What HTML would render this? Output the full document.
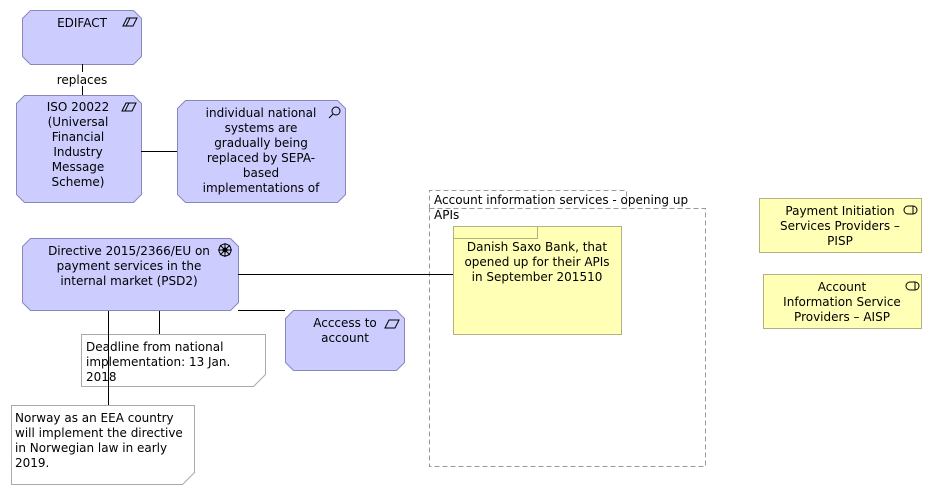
<!DOCTYPE html>
<html><head><meta charset="utf-8"><style>
html,body{margin:0;padding:0;background:#fff;width:932px;height:495px;overflow:hidden}
svg text{font-family:"DejaVu Sans","Liberation Sans",sans-serif;font-size:12px;fill:#000}
</style></head><body>
<svg width="932" height="495" viewBox="0 0 932 495" xmlns="http://www.w3.org/2000/svg">
<g fill="#ccccff" stroke="#8888bb">
<polygon points="30.5,10.5 133.5,10.5 141.5,18.5 141.5,56.5 133.5,64.5 30.5,64.5 22.5,56.5 22.5,18.5"/>
<polygon points="24.5,95.5 133.5,95.5 141.5,103.5 141.5,194.5 133.5,202.5 24.5,202.5 16.5,194.5 16.5,103.5"/>
<polygon points="185.5,100.5 337.5,100.5 345.5,108.5 345.5,194.5 337.5,202.5 185.5,202.5 177.5,194.5 177.5,108.5"/>
<polygon points="30.5,238.5 230.5,238.5 238.5,246.5 238.5,302.5 230.5,310.5 30.5,310.5 22.5,302.5 22.5,246.5"/>
<polygon points="293.5,310.5 396.5,310.5 404.5,318.5 404.5,362.5 396.5,370.5 293.5,370.5 285.5,362.5 285.5,318.5"/>
</g>
<g fill="#fff" stroke="#aaa">
<polygon points="81.5,334.5 265.5,334.5 265.5,374.5 253.5,386.5 81.5,386.5"/>
<polygon points="11.5,405.5 194.5,405.5 194.5,472.5 182.5,484.5 11.5,484.5"/>
</g>
<g fill="none" stroke="#999" stroke-dasharray="5,3">
<polyline points="429.5,208.5 429.5,190.5 626.5,190.5 626.5,208.5"/>
<rect x="429.5" y="208.5" width="276" height="258"/>
</g>
<g fill="#ffffb5" stroke="#b0b080">
<rect x="453.5" y="226.5" width="168" height="108"/>
<rect x="453.5" y="226.5" width="84" height="12"/>
<rect x="759.5" y="198.5" width="162" height="54"/>
<rect x="763.5" y="274.5" width="158" height="54"/>
</g>
<g stroke="#000" stroke-width="1">
<line x1="82.5" y1="64" x2="82.5" y2="72"/>
<line x1="82.5" y1="86" x2="82.5" y2="95"/>
<line x1="141" y1="151.5" x2="177" y2="151.5"/>
<line x1="238" y1="274.5" x2="453" y2="274.5"/>
<line x1="238" y1="310.5" x2="285" y2="310.5"/>
<line x1="159.5" y1="311" x2="159.5" y2="334"/>
<line x1="108.5" y1="311" x2="108.5" y2="405"/>
</g>
<g fill="none" stroke="#000" stroke-width="1">
<polygon points="123,26 127,18 137,18 133,26"/><line x1="126" y1="26" x2="130" y2="18"/>
<polygon points="122,111 126,103 136,103 132,111"/><line x1="125" y1="111" x2="129" y2="103"/>
<circle cx="336" cy="111" r="4"/><line x1="333" y1="114" x2="329" y2="118"/>
<circle cx="225" cy="250" r="6"/><circle cx="225" cy="250" r="2" fill="#000"/>
<line x1="218" y1="250" x2="232" y2="250"/><line x1="225" y1="243" x2="225" y2="257"/>
<line x1="220" y1="245" x2="230" y2="255"/><line x1="230" y1="245" x2="220" y2="255"/>
<polygon points="385,328 389,320 399,320 395,328"/>
<rect x="904" y="206" width="13" height="8" rx="4"/><line x1="913" y1="206" x2="913" y2="214"/>
<rect x="906" y="282" width="13" height="8" rx="4"/><line x1="915" y1="282" x2="915" y2="290"/>
</g>
<g text-anchor="middle">
<text x="82" y="27">EDIFACT</text>
<text x="82" y="84">replaces</text>
<text x="78" y="111">ISO 20022</text><text x="78" y="126">(Universal</text><text x="78" y="141">Financial</text><text x="78" y="156">Industry</text><text x="78" y="171">Message</text><text x="78" y="186">Scheme)</text>
<text x="261" y="117">individual national</text><text x="261" y="132">systems are</text><text x="261" y="147">gradually being</text><text x="261" y="162">replaced by SEPA-</text><text x="261" y="177">based</text><text x="261" y="192">implementations of</text>
<text x="129" y="255">Directive 2015/2366/EU on</text><text x="129" y="270">payment services in the</text><text x="129" y="285">internal market (PSD2)</text>
<text x="345" y="327">Acccess to</text><text x="345" y="342">account</text>
<text x="537" y="251">Danish Saxo Bank, that</text><text x="537" y="266">opened up for their APIs</text><text x="537" y="281">in September 201510</text>
<text x="840" y="215">Payment Initiation</text><text x="840" y="230">Services Providers –</text><text x="840" y="245">PISP</text>
<text x="842" y="291">Account</text><text x="842" y="306">Information Service</text><text x="842" y="321">Providers – AISP</text>
</g>
<text x="86" y="351">Deadline from national</text><text x="86" y="366">implementation: 13 Jan.</text><text x="86" y="381">2018</text>
<text x="15" y="422">Norway as an EEA country</text><text x="15" y="437">will implement the directive</text><text x="15" y="452">in Norwegian law in early</text><text x="15" y="467">2019.</text>
<text x="434" y="204">Account information services - opening up</text><text x="434" y="219">APIs</text>
</svg>
</body></html>
